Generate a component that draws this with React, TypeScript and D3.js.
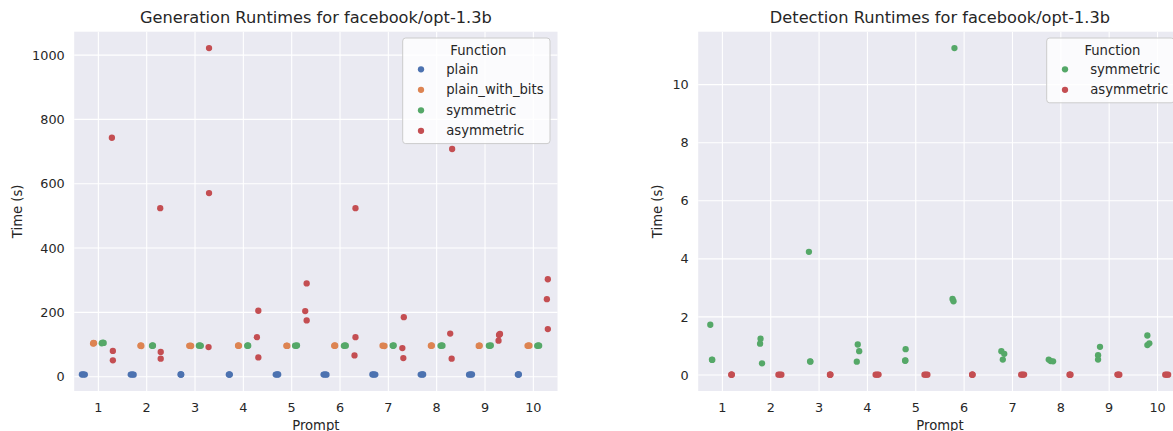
import React from 'react';
import * as d3 from 'd3';

// ---------- data ----------
const prompts = ['1', '2', '3', '4', '5', '6', '7', '8', '9', '10'];
const genFunctions = ['plain', 'plain_with_bits', 'symmetric', 'asymmetric'];
const detFunctions = ['symmetric', 'asymmetric'];
const genYTicks = [0, 200, 400, 600, 800, 1000];
const detYTicks = [0, 2, 4, 6, 8, 10];

// Generation runtimes (s), 3 runs per prompt, plus horizontal position (category units from prompt)
const genPlainTime = [[6.8, 7.2, 6.5], [6.6, 7.0, 6.3], [6.9, 7.1, 6.7], [6.7, 7.0, 6.6], [6.5, 7.1, 6.8], [6.6, 7.2, 6.4], [6.8, 6.9, 6.5], [6.6, 7.0, 6.9], [6.4, 7.1, 6.8], [6.7, 7.0, 6.9]];
const genPlainX = [[-0.34, -0.31, -0.28], [-0.33, -0.30, -0.27], [-0.30, -0.29, -0.285], [-0.30, -0.29, -0.28], [-0.33, -0.30, -0.28], [-0.34, -0.31, -0.28], [-0.33, -0.30, -0.27], [-0.33, -0.30, -0.28], [-0.33, -0.30, -0.27], [-0.32, -0.31, -0.30]];

const genBitsTime = [[103, 105, 104], [96, 97, 95.5], [96, 96.5, 95.5], [96.5, 97, 96], [96, 96.5, 95.8], [96, 97, 96.2], [96.5, 96, 95.5], [96, 97, 96.5], [95.8, 96.5, 96.2], [96, 97, 96.4]];
const genBitsX = [[-0.11, -0.10, -0.09], [-0.13, -0.12, -0.11], [-0.12, -0.10, -0.08], [-0.11, -0.10, -0.09], [-0.11, -0.10, -0.09], [-0.12, -0.11, -0.10], [-0.12, -0.10, -0.08], [-0.12, -0.11, -0.10], [-0.13, -0.12, -0.11], [-0.12, -0.10, -0.08]];

const genSymTime = [[104, 106, 105], [96, 97, 96.5], [96.5, 97, 96], [96, 97, 96.5], [96.5, 96, 97], [96, 97, 96.5], [96.8, 96, 97], [96, 97, 96.5], [96.5, 96, 97], [96, 97, 96.5]];
const genSymX = [[0.07, 0.09, 0.11], [0.11, 0.12, 0.13], [0.08, 0.10, 0.12], [0.08, 0.09, 0.10], [0.07, 0.09, 0.11], [0.08, 0.10, 0.12], [0.09, 0.10, 0.11], [0.08, 0.10, 0.12], [0.08, 0.10, 0.12], [0.08, 0.10, 0.12]];

const genAsymTime = [[743, 80, 51], [524, 77, 56], [1022, 571, 92], [205, 123, 60], [290, 204, 175], [524, 123, 66], [185, 89, 58], [708, 134, 56], [133, 130, 112], [303, 241, 148]];
const genAsymX = [[0.28, 0.30, 0.30], [0.28, 0.29, 0.29], [0.29, 0.29, 0.28], [0.31, 0.28, 0.31], [0.31, 0.28, 0.31], [0.32, 0.32, 0.30], [0.32, 0.29, 0.31], [0.32, 0.28, 0.31], [0.31, 0.29, 0.28], [0.30, 0.28, 0.30]];

// Detection runtimes (s)
const detSymTime = [[1.73, 0.52, 0.53], [1.25, 1.08, 0.40], [4.24, 0.46, 0.47], [1.05, 0.82, 0.46], [0.89, 0.49, 0.50], [11.26, 2.62, 2.54], [0.82, 0.73, 0.53], [0.53, 0.48, 0.47], [0.97, 0.68, 0.53], [1.36, 1.03, 1.09]];
const detSymX = [[-0.25, -0.21, -0.215], [-0.21, -0.22, -0.18], [-0.21, -0.18, -0.185], [-0.20, -0.17, -0.22], [-0.21, -0.22, -0.215], [-0.20, -0.24, -0.22], [-0.23, -0.17, -0.20], [-0.25, -0.21, -0.16], [-0.19, -0.23, -0.23], [-0.21, -0.21, -0.17]];

const detAsymTime = [[0.012, 0.011, 0.013], [0.012, 0.013, 0.011], [0.012, 0.012, 0.013], [0.011, 0.012, 0.013], [0.012, 0.011, 0.012], [0.012, 0.013, 0.012], [0.011, 0.012, 0.013], [0.012, 0.012, 0.011], [0.013, 0.012, 0.011], [0.012, 0.011, 0.012]];
const detAsymX = [[0.185, 0.19, 0.195], [0.16, 0.19, 0.22], [0.225, 0.23, 0.235], [0.17, 0.20, 0.23], [0.18, 0.21, 0.24], [0.165, 0.17, 0.175], [0.18, 0.21, 0.24], [0.18, 0.19, 0.20], [0.17, 0.19, 0.21], [0.16, 0.19, 0.22]];

// ---------- styles ----------
const palette: Record<string, string> = {
  plain: '#4C72B0',
  plain_with_bits: '#DD8452',
  symmetric: '#55A868',
  asymmetric: '#C44E52',
};
const FONT = 'DejaVu Sans, sans-serif';
const TEXT = '#262626';

type Series = { name: string; times: number[][]; xs: number[][] };

function Panel(props: {
  left: number; right: number; top: number; bottom: number;
  title: string; series: Series[]; yTicks: number[]; legendWidth: number; yLabelX: number;
}) {
  const { left, right, top, bottom, title, series, yTicks, legendWidth, yLabelX } = props;
  const x = d3.scaleLinear().domain([-0.5, prompts.length - 0.5]).range([left, right]);
  const all = series.flatMap((s) => s.times.flat());
  const [mn, mx] = d3.extent(all) as [number, number];
  const pad = (mx - mn) * 0.05;
  const y = d3.scaleLinear().domain([mn - pad, mx + pad]).range([bottom, top]);
  const cx = (left + right) / 2;
  const legRight = right - 7.5;
  const legLeft = legRight - legendWidth;
  const legTop = 38;
  const legH = 24 + series.length * 20.4;
  return (
    <g>
      <rect x={left} y={top} width={right - left} height={bottom - top} fill="#EAEAF2" />
      {prompts.map((p, i) => (
        <line key={'gx' + p} x1={x(i)} x2={x(i)} y1={top} y2={bottom} stroke="#fff" strokeWidth={1.1} />
      ))}
      {yTicks.map((t) => (
        <line key={'gy' + t} x1={left} x2={right} y1={y(t)} y2={y(t)} stroke="#fff" strokeWidth={1.1} />
      ))}
      {series.map((s) =>
        s.times.map((runs, i) =>
          runs.map((v, j) => (
            <circle key={s.name + i + '-' + j} cx={x(i + s.xs[i][j])} cy={y(v)} r={3.15} fill={palette[s.name]} />
          ))
        )
      )}
      {prompts.map((p, i) => (
        <text key={'tx' + p} x={x(i)} y={411.5} textAnchor="middle" fontSize={12.8} fill={TEXT} fontFamily={FONT}>{p}</text>
      ))}
      {yTicks.map((t) => (
        <text key={'ty' + t} x={left - 9.5} y={y(t) + 4.6} textAnchor="end" fontSize={12.8} fill={TEXT} fontFamily={FONT}>{t}</text>
      ))}
      <text x={cx} y={23} textAnchor="middle" fontSize={16.2} fill={TEXT} fontFamily={FONT}>{title}</text>
      <text x={cx} y={430} textAnchor="middle" fontSize={13.2} fill={TEXT} fontFamily={FONT}>Prompt</text>
      <text transform={`translate(${yLabelX},${(top + bottom) / 2}) rotate(-90)`} textAnchor="middle" fontSize={13.2} fill={TEXT} fontFamily={FONT}>Time (s)</text>
      <rect x={legLeft} y={legTop} width={legendWidth} height={legH} rx={3} fill="#ffffff" fillOpacity={0.8} stroke="#cccccc" strokeWidth={1} />
      <text x={legLeft + legendWidth / 2 + 2} y={legTop + 16.5} textAnchor="middle" fontSize={13.2} fill={TEXT} fontFamily={FONT}>Function</text>
      {series.map((s, k) => (
        <g key={'lg' + s.name}>
          <circle cx={legLeft + 18.3} cy={legTop + 31.3 + k * 20.5} r={3.15} fill={palette[s.name]} />
          <text x={legLeft + 43.5} y={legTop + 31.3 + k * 20.5 + 4.6} fontSize={13.2} fill={TEXT} fontFamily={FONT}>{s.name}</text>
        </g>
      ))}
    </g>
  );
}

export default function App() {
  const genSeries: Series[] = [
    { name: genFunctions[0], times: genPlainTime, xs: genPlainX },
    { name: genFunctions[1], times: genBitsTime, xs: genBitsX },
    { name: genFunctions[2], times: genSymTime, xs: genSymX },
    { name: genFunctions[3], times: genAsymTime, xs: genAsymX },
  ];
  const detSeries: Series[] = [
    { name: detFunctions[0], times: detSymTime, xs: detSymX },
    { name: detFunctions[1], times: detAsymTime, xs: detAsymX },
  ];
  return (
    <svg width={1173} height={431} style={{ position: 'absolute', left: 0, top: 0, background: '#fff' }}>
      <rect x={0} y={0} width={1173} height={431} fill="#fff" />
      <Panel left={74.2} right={557.5} top={31.7} bottom={391} title="Generation Runtimes for facebook/opt-1.3b"
        series={genSeries} yTicks={genYTicks} legendWidth={147.3} yLabelX={21.5} />
      <Panel left={698.2} right={1181.7} top={31.7} bottom={391} title="Detection Runtimes for facebook/opt-1.3b"
        series={detSeries} yTicks={detYTicks} legendWidth={127.5} yLabelX={662} />
    </svg>
  );
}
